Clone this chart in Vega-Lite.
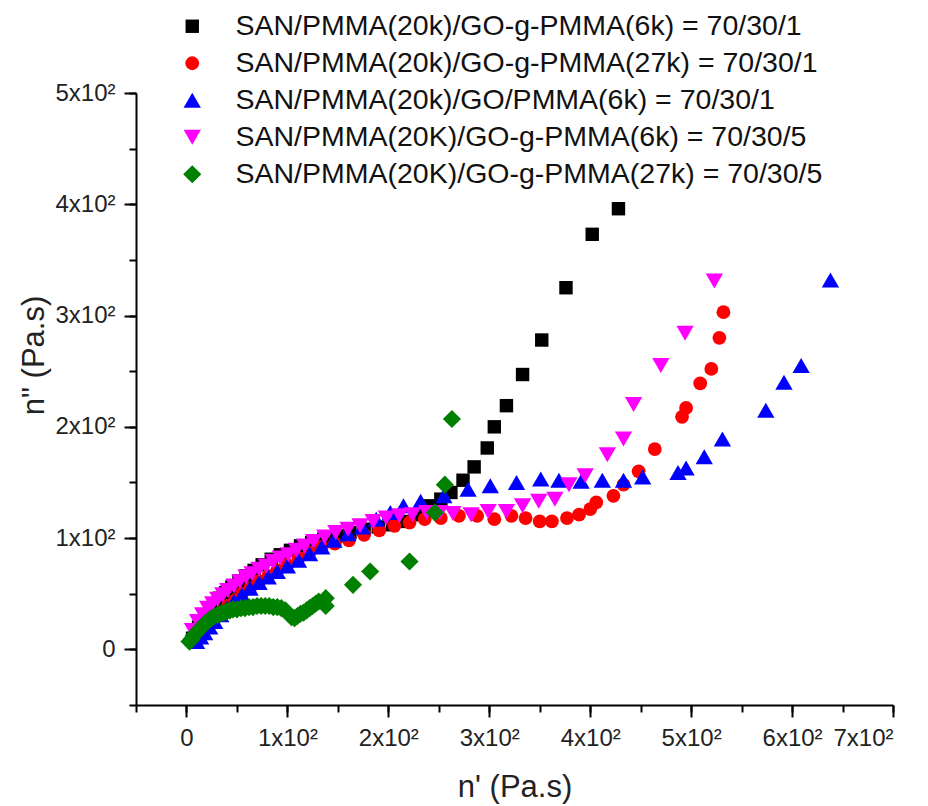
{
  "$schema": "https://vega.github.io/schema/vega-lite/v6.json",
  "width": 757,
  "height": 612,
  "autosize": {"type": "none"},
  "padding": {"left": 136, "top": 93, "right": 35, "bottom": 101},
  "background": "white",
  "config": {
    "view": {"stroke": null},
    "font": "Liberation Sans",
    "axis": {
      "grid": false,
      "domainColor": "#000",
      "domainWidth": 2,
      "tickColor": "#000",
      "tickWidth": 2,
      "labelFont": "Liberation Sans",
      "labelFontSize": 24,
      "labelColor": "#222",
      "titleFont": "Liberation Sans",
      "titleFontSize": 31,
      "titleFontWeight": "normal",
      "titleColor": "#222"
    },
    "legend": {
      "orient": "none",
      "legendX": 42,
      "legendY": -81,
      "padding": 0,
      "labelFont": "Liberation Sans",
      "labelFontSize": 28.5,
      "labelColor": "#111",
      "labelLimit": 2000,
      "labelOffset": 29,
      "rowPadding": 8,
      "title": null
    }
  },
  "datasets": {
    "pts": [
      {"s": "SAN/PMMA(20k)/GO-g-PMMA(6k) = 70/30/1", "x": 6, "y": 10},
      {"s": "SAN/PMMA(20k)/GO-g-PMMA(6k) = 70/30/1", "x": 9, "y": 15},
      {"s": "SAN/PMMA(20k)/GO-g-PMMA(6k) = 70/30/1", "x": 12, "y": 20},
      {"s": "SAN/PMMA(20k)/GO-g-PMMA(6k) = 70/30/1", "x": 15, "y": 25},
      {"s": "SAN/PMMA(20k)/GO-g-PMMA(6k) = 70/30/1", "x": 19, "y": 30},
      {"s": "SAN/PMMA(20k)/GO-g-PMMA(6k) = 70/30/1", "x": 23, "y": 35},
      {"s": "SAN/PMMA(20k)/GO-g-PMMA(6k) = 70/30/1", "x": 28, "y": 41},
      {"s": "SAN/PMMA(20k)/GO-g-PMMA(6k) = 70/30/1", "x": 33, "y": 46},
      {"s": "SAN/PMMA(20k)/GO-g-PMMA(6k) = 70/30/1", "x": 39, "y": 51},
      {"s": "SAN/PMMA(20k)/GO-g-PMMA(6k) = 70/30/1", "x": 45, "y": 56},
      {"s": "SAN/PMMA(20k)/GO-g-PMMA(6k) = 70/30/1", "x": 52, "y": 61},
      {"s": "SAN/PMMA(20k)/GO-g-PMMA(6k) = 70/30/1", "x": 59, "y": 66},
      {"s": "SAN/PMMA(20k)/GO-g-PMMA(6k) = 70/30/1", "x": 67, "y": 71},
      {"s": "SAN/PMMA(20k)/GO-g-PMMA(6k) = 70/30/1", "x": 75, "y": 76},
      {"s": "SAN/PMMA(20k)/GO-g-PMMA(6k) = 70/30/1", "x": 84, "y": 81},
      {"s": "SAN/PMMA(20k)/GO-g-PMMA(6k) = 70/30/1", "x": 93, "y": 85},
      {"s": "SAN/PMMA(20k)/GO-g-PMMA(6k) = 70/30/1", "x": 103, "y": 89},
      {"s": "SAN/PMMA(20k)/GO-g-PMMA(6k) = 70/30/1", "x": 113, "y": 93},
      {"s": "SAN/PMMA(20k)/GO-g-PMMA(6k) = 70/30/1", "x": 124, "y": 96},
      {"s": "SAN/PMMA(20k)/GO-g-PMMA(6k) = 70/30/1", "x": 136, "y": 99},
      {"s": "SAN/PMMA(20k)/GO-g-PMMA(6k) = 70/30/1", "x": 149, "y": 102},
      {"s": "SAN/PMMA(20k)/GO-g-PMMA(6k) = 70/30/1", "x": 162, "y": 105},
      {"s": "SAN/PMMA(20k)/GO-g-PMMA(6k) = 70/30/1", "x": 176, "y": 108},
      {"s": "SAN/PMMA(20k)/GO-g-PMMA(6k) = 70/30/1", "x": 190, "y": 110},
      {"s": "SAN/PMMA(20k)/GO-g-PMMA(6k) = 70/30/1", "x": 204, "y": 112},
      {"s": "SAN/PMMA(20k)/GO-g-PMMA(6k) = 70/30/1", "x": 218, "y": 115},
      {"s": "SAN/PMMA(20k)/GO-g-PMMA(6k) = 70/30/1", "x": 231, "y": 121},
      {"s": "SAN/PMMA(20k)/GO-g-PMMA(6k) = 70/30/1", "x": 241, "y": 129},
      {"s": "SAN/PMMA(20k)/GO-g-PMMA(6k) = 70/30/1", "x": 252, "y": 135},
      {"s": "SAN/PMMA(20k)/GO-g-PMMA(6k) = 70/30/1", "x": 262, "y": 141},
      {"s": "SAN/PMMA(20k)/GO-g-PMMA(6k) = 70/30/1", "x": 274, "y": 152},
      {"s": "SAN/PMMA(20k)/GO-g-PMMA(6k) = 70/30/1", "x": 285, "y": 164},
      {"s": "SAN/PMMA(20k)/GO-g-PMMA(6k) = 70/30/1", "x": 298, "y": 181},
      {"s": "SAN/PMMA(20k)/GO-g-PMMA(6k) = 70/30/1", "x": 305, "y": 200},
      {"s": "SAN/PMMA(20k)/GO-g-PMMA(6k) = 70/30/1", "x": 317, "y": 219},
      {"s": "SAN/PMMA(20k)/GO-g-PMMA(6k) = 70/30/1", "x": 333, "y": 247},
      {"s": "SAN/PMMA(20k)/GO-g-PMMA(6k) = 70/30/1", "x": 352, "y": 278},
      {"s": "SAN/PMMA(20k)/GO-g-PMMA(6k) = 70/30/1", "x": 376, "y": 325},
      {"s": "SAN/PMMA(20k)/GO-g-PMMA(6k) = 70/30/1", "x": 402, "y": 373},
      {"s": "SAN/PMMA(20k)/GO-g-PMMA(6k) = 70/30/1", "x": 428, "y": 396},

      {"s": "SAN/PMMA(20k)/GO-g-PMMA(27k) = 70/30/1", "x": 8, "y": 7},
      {"s": "SAN/PMMA(20k)/GO-g-PMMA(27k) = 70/30/1", "x": 11, "y": 11},
      {"s": "SAN/PMMA(20k)/GO-g-PMMA(27k) = 70/30/1", "x": 15, "y": 15},
      {"s": "SAN/PMMA(20k)/GO-g-PMMA(27k) = 70/30/1", "x": 19, "y": 19},
      {"s": "SAN/PMMA(20k)/GO-g-PMMA(27k) = 70/30/1", "x": 24, "y": 24},
      {"s": "SAN/PMMA(20k)/GO-g-PMMA(27k) = 70/30/1", "x": 29, "y": 29},
      {"s": "SAN/PMMA(20k)/GO-g-PMMA(27k) = 70/30/1", "x": 35, "y": 34},
      {"s": "SAN/PMMA(20k)/GO-g-PMMA(27k) = 70/30/1", "x": 41, "y": 39},
      {"s": "SAN/PMMA(20k)/GO-g-PMMA(27k) = 70/30/1", "x": 48, "y": 44},
      {"s": "SAN/PMMA(20k)/GO-g-PMMA(27k) = 70/30/1", "x": 55, "y": 50},
      {"s": "SAN/PMMA(20k)/GO-g-PMMA(27k) = 70/30/1", "x": 63, "y": 55},
      {"s": "SAN/PMMA(20k)/GO-g-PMMA(27k) = 70/30/1", "x": 72, "y": 61},
      {"s": "SAN/PMMA(20k)/GO-g-PMMA(27k) = 70/30/1", "x": 81, "y": 66},
      {"s": "SAN/PMMA(20k)/GO-g-PMMA(27k) = 70/30/1", "x": 90, "y": 71},
      {"s": "SAN/PMMA(20k)/GO-g-PMMA(27k) = 70/30/1", "x": 100, "y": 76},
      {"s": "SAN/PMMA(20k)/GO-g-PMMA(27k) = 70/30/1", "x": 111, "y": 82},
      {"s": "SAN/PMMA(20k)/GO-g-PMMA(27k) = 70/30/1", "x": 122, "y": 87},
      {"s": "SAN/PMMA(20k)/GO-g-PMMA(27k) = 70/30/1", "x": 134, "y": 92},
      {"s": "SAN/PMMA(20k)/GO-g-PMMA(27k) = 70/30/1", "x": 147, "y": 95},
      {"s": "SAN/PMMA(20k)/GO-g-PMMA(27k) = 70/30/1", "x": 161, "y": 98},
      {"s": "SAN/PMMA(20k)/GO-g-PMMA(27k) = 70/30/1", "x": 176, "y": 103},
      {"s": "SAN/PMMA(20k)/GO-g-PMMA(27k) = 70/30/1", "x": 191, "y": 107},
      {"s": "SAN/PMMA(20k)/GO-g-PMMA(27k) = 70/30/1", "x": 206, "y": 111},
      {"s": "SAN/PMMA(20k)/GO-g-PMMA(27k) = 70/30/1", "x": 221, "y": 114},
      {"s": "SAN/PMMA(20k)/GO-g-PMMA(27k) = 70/30/1", "x": 236, "y": 117},
      {"s": "SAN/PMMA(20k)/GO-g-PMMA(27k) = 70/30/1", "x": 252, "y": 118},
      {"s": "SAN/PMMA(20k)/GO-g-PMMA(27k) = 70/30/1", "x": 270, "y": 120},
      {"s": "SAN/PMMA(20k)/GO-g-PMMA(27k) = 70/30/1", "x": 288, "y": 120},
      {"s": "SAN/PMMA(20k)/GO-g-PMMA(27k) = 70/30/1", "x": 305, "y": 117},
      {"s": "SAN/PMMA(20k)/GO-g-PMMA(27k) = 70/30/1", "x": 322, "y": 120},
      {"s": "SAN/PMMA(20k)/GO-g-PMMA(27k) = 70/30/1", "x": 336, "y": 118},
      {"s": "SAN/PMMA(20k)/GO-g-PMMA(27k) = 70/30/1", "x": 350, "y": 115},
      {"s": "SAN/PMMA(20k)/GO-g-PMMA(27k) = 70/30/1", "x": 362, "y": 115},
      {"s": "SAN/PMMA(20k)/GO-g-PMMA(27k) = 70/30/1", "x": 377, "y": 118},
      {"s": "SAN/PMMA(20k)/GO-g-PMMA(27k) = 70/30/1", "x": 389, "y": 121},
      {"s": "SAN/PMMA(20k)/GO-g-PMMA(27k) = 70/30/1", "x": 400, "y": 126},
      {"s": "SAN/PMMA(20k)/GO-g-PMMA(27k) = 70/30/1", "x": 406, "y": 132},
      {"s": "SAN/PMMA(20k)/GO-g-PMMA(27k) = 70/30/1", "x": 423, "y": 138},
      {"s": "SAN/PMMA(20k)/GO-g-PMMA(27k) = 70/30/1", "x": 433, "y": 148},
      {"s": "SAN/PMMA(20k)/GO-g-PMMA(27k) = 70/30/1", "x": 448, "y": 160},
      {"s": "SAN/PMMA(20k)/GO-g-PMMA(27k) = 70/30/1", "x": 464, "y": 180},
      {"s": "SAN/PMMA(20k)/GO-g-PMMA(27k) = 70/30/1", "x": 491, "y": 209},
      {"s": "SAN/PMMA(20k)/GO-g-PMMA(27k) = 70/30/1", "x": 495, "y": 217},
      {"s": "SAN/PMMA(20k)/GO-g-PMMA(27k) = 70/30/1", "x": 509, "y": 239},
      {"s": "SAN/PMMA(20k)/GO-g-PMMA(27k) = 70/30/1", "x": 520, "y": 252},
      {"s": "SAN/PMMA(20k)/GO-g-PMMA(27k) = 70/30/1", "x": 528, "y": 280},
      {"s": "SAN/PMMA(20k)/GO-g-PMMA(27k) = 70/30/1", "x": 532, "y": 303},

      {"s": "SAN/PMMA(20k)/GO/PMMA(6k) = 70/30/1", "x": 10, "y": 7},
      {"s": "SAN/PMMA(20k)/GO/PMMA(6k) = 70/30/1", "x": 14, "y": 11},
      {"s": "SAN/PMMA(20k)/GO/PMMA(6k) = 70/30/1", "x": 18, "y": 15},
      {"s": "SAN/PMMA(20k)/GO/PMMA(6k) = 70/30/1", "x": 23, "y": 20},
      {"s": "SAN/PMMA(20k)/GO/PMMA(6k) = 70/30/1", "x": 28, "y": 25},
      {"s": "SAN/PMMA(20k)/GO/PMMA(6k) = 70/30/1", "x": 34, "y": 31},
      {"s": "SAN/PMMA(20k)/GO/PMMA(6k) = 70/30/1", "x": 40, "y": 37},
      {"s": "SAN/PMMA(20k)/GO/PMMA(6k) = 70/30/1", "x": 47, "y": 43},
      {"s": "SAN/PMMA(20k)/GO/PMMA(6k) = 70/30/1", "x": 55, "y": 49},
      {"s": "SAN/PMMA(20k)/GO/PMMA(6k) = 70/30/1", "x": 63, "y": 55},
      {"s": "SAN/PMMA(20k)/GO/PMMA(6k) = 70/30/1", "x": 72, "y": 60},
      {"s": "SAN/PMMA(20k)/GO/PMMA(6k) = 70/30/1", "x": 81, "y": 65},
      {"s": "SAN/PMMA(20k)/GO/PMMA(6k) = 70/30/1", "x": 90, "y": 70},
      {"s": "SAN/PMMA(20k)/GO/PMMA(6k) = 70/30/1", "x": 100, "y": 75},
      {"s": "SAN/PMMA(20k)/GO/PMMA(6k) = 70/30/1", "x": 111, "y": 80},
      {"s": "SAN/PMMA(20k)/GO/PMMA(6k) = 70/30/1", "x": 122, "y": 86},
      {"s": "SAN/PMMA(20k)/GO/PMMA(6k) = 70/30/1", "x": 134, "y": 92},
      {"s": "SAN/PMMA(20k)/GO/PMMA(6k) = 70/30/1", "x": 146, "y": 98},
      {"s": "SAN/PMMA(20k)/GO/PMMA(6k) = 70/30/1", "x": 160, "y": 104},
      {"s": "SAN/PMMA(20k)/GO/PMMA(6k) = 70/30/1", "x": 174, "y": 110},
      {"s": "SAN/PMMA(20k)/GO/PMMA(6k) = 70/30/1", "x": 188, "y": 117},
      {"s": "SAN/PMMA(20k)/GO/PMMA(6k) = 70/30/1", "x": 202, "y": 123},
      {"s": "SAN/PMMA(20k)/GO/PMMA(6k) = 70/30/1", "x": 215, "y": 129},
      {"s": "SAN/PMMA(20k)/GO/PMMA(6k) = 70/30/1", "x": 232, "y": 133},
      {"s": "SAN/PMMA(20k)/GO/PMMA(6k) = 70/30/1", "x": 255, "y": 138},
      {"s": "SAN/PMMA(20k)/GO/PMMA(6k) = 70/30/1", "x": 279, "y": 144},
      {"s": "SAN/PMMA(20k)/GO/PMMA(6k) = 70/30/1", "x": 301, "y": 147},
      {"s": "SAN/PMMA(20k)/GO/PMMA(6k) = 70/30/1", "x": 327, "y": 150},
      {"s": "SAN/PMMA(20k)/GO/PMMA(6k) = 70/30/1", "x": 351, "y": 153},
      {"s": "SAN/PMMA(20k)/GO/PMMA(6k) = 70/30/1", "x": 369, "y": 152},
      {"s": "SAN/PMMA(20k)/GO/PMMA(6k) = 70/30/1", "x": 391, "y": 151},
      {"s": "SAN/PMMA(20k)/GO/PMMA(6k) = 70/30/1", "x": 412, "y": 152},
      {"s": "SAN/PMMA(20k)/GO/PMMA(6k) = 70/30/1", "x": 433, "y": 152},
      {"s": "SAN/PMMA(20k)/GO/PMMA(6k) = 70/30/1", "x": 452, "y": 155},
      {"s": "SAN/PMMA(20k)/GO/PMMA(6k) = 70/30/1", "x": 487, "y": 159},
      {"s": "SAN/PMMA(20k)/GO/PMMA(6k) = 70/30/1", "x": 495, "y": 163},
      {"s": "SAN/PMMA(20k)/GO/PMMA(6k) = 70/30/1", "x": 513, "y": 173},
      {"s": "SAN/PMMA(20k)/GO/PMMA(6k) = 70/30/1", "x": 531, "y": 189},
      {"s": "SAN/PMMA(20k)/GO/PMMA(6k) = 70/30/1", "x": 574, "y": 215},
      {"s": "SAN/PMMA(20k)/GO/PMMA(6k) = 70/30/1", "x": 592, "y": 240},
      {"s": "SAN/PMMA(20k)/GO/PMMA(6k) = 70/30/1", "x": 609, "y": 255},
      {"s": "SAN/PMMA(20k)/GO/PMMA(6k) = 70/30/1", "x": 638, "y": 332},

      {"s": "SAN/PMMA(20K)/GO-g-PMMA(6k) = 70/30/5", "x": 6, "y": 17},
      {"s": "SAN/PMMA(20K)/GO-g-PMMA(6k) = 70/30/5", "x": 11, "y": 25},
      {"s": "SAN/PMMA(20K)/GO-g-PMMA(6k) = 70/30/5", "x": 16, "y": 31},
      {"s": "SAN/PMMA(20K)/GO-g-PMMA(6k) = 70/30/5", "x": 21, "y": 37},
      {"s": "SAN/PMMA(20K)/GO-g-PMMA(6k) = 70/30/5", "x": 26, "y": 41},
      {"s": "SAN/PMMA(20K)/GO-g-PMMA(6k) = 70/30/5", "x": 31, "y": 45},
      {"s": "SAN/PMMA(20K)/GO-g-PMMA(6k) = 70/30/5", "x": 36, "y": 49},
      {"s": "SAN/PMMA(20K)/GO-g-PMMA(6k) = 70/30/5", "x": 41, "y": 53},
      {"s": "SAN/PMMA(20K)/GO-g-PMMA(6k) = 70/30/5", "x": 47, "y": 57},
      {"s": "SAN/PMMA(20K)/GO-g-PMMA(6k) = 70/30/5", "x": 53, "y": 61},
      {"s": "SAN/PMMA(20K)/GO-g-PMMA(6k) = 70/30/5", "x": 59, "y": 65},
      {"s": "SAN/PMMA(20K)/GO-g-PMMA(6k) = 70/30/5", "x": 65, "y": 68},
      {"s": "SAN/PMMA(20K)/GO-g-PMMA(6k) = 70/30/5", "x": 72, "y": 72},
      {"s": "SAN/PMMA(20K)/GO-g-PMMA(6k) = 70/30/5", "x": 79, "y": 75},
      {"s": "SAN/PMMA(20K)/GO-g-PMMA(6k) = 70/30/5", "x": 86, "y": 79},
      {"s": "SAN/PMMA(20K)/GO-g-PMMA(6k) = 70/30/5", "x": 93, "y": 82},
      {"s": "SAN/PMMA(20K)/GO-g-PMMA(6k) = 70/30/5", "x": 101, "y": 85},
      {"s": "SAN/PMMA(20K)/GO-g-PMMA(6k) = 70/30/5", "x": 109, "y": 89},
      {"s": "SAN/PMMA(20K)/GO-g-PMMA(6k) = 70/30/5", "x": 117, "y": 93},
      {"s": "SAN/PMMA(20K)/GO-g-PMMA(6k) = 70/30/5", "x": 126, "y": 97},
      {"s": "SAN/PMMA(20K)/GO-g-PMMA(6k) = 70/30/5", "x": 137, "y": 101},
      {"s": "SAN/PMMA(20K)/GO-g-PMMA(6k) = 70/30/5", "x": 148, "y": 105},
      {"s": "SAN/PMMA(20K)/GO-g-PMMA(6k) = 70/30/5", "x": 160, "y": 108},
      {"s": "SAN/PMMA(20K)/GO-g-PMMA(6k) = 70/30/5", "x": 172, "y": 111},
      {"s": "SAN/PMMA(20K)/GO-g-PMMA(6k) = 70/30/5", "x": 185, "y": 115},
      {"s": "SAN/PMMA(20K)/GO-g-PMMA(6k) = 70/30/5", "x": 198, "y": 118},
      {"s": "SAN/PMMA(20K)/GO-g-PMMA(6k) = 70/30/5", "x": 211, "y": 120},
      {"s": "SAN/PMMA(20K)/GO-g-PMMA(6k) = 70/30/5", "x": 224, "y": 121},
      {"s": "SAN/PMMA(20K)/GO-g-PMMA(6k) = 70/30/5", "x": 238, "y": 123},
      {"s": "SAN/PMMA(20K)/GO-g-PMMA(6k) = 70/30/5", "x": 251, "y": 123},
      {"s": "SAN/PMMA(20K)/GO-g-PMMA(6k) = 70/30/5", "x": 264, "y": 122},
      {"s": "SAN/PMMA(20K)/GO-g-PMMA(6k) = 70/30/5", "x": 282, "y": 121},
      {"s": "SAN/PMMA(20K)/GO-g-PMMA(6k) = 70/30/5", "x": 299, "y": 124},
      {"s": "SAN/PMMA(20K)/GO-g-PMMA(6k) = 70/30/5", "x": 317, "y": 124},
      {"s": "SAN/PMMA(20K)/GO-g-PMMA(6k) = 70/30/5", "x": 333, "y": 129},
      {"s": "SAN/PMMA(20K)/GO-g-PMMA(6k) = 70/30/5", "x": 349, "y": 133},
      {"s": "SAN/PMMA(20K)/GO-g-PMMA(6k) = 70/30/5", "x": 365, "y": 135},
      {"s": "SAN/PMMA(20K)/GO-g-PMMA(6k) = 70/30/5", "x": 379, "y": 148},
      {"s": "SAN/PMMA(20K)/GO-g-PMMA(6k) = 70/30/5", "x": 395, "y": 156},
      {"s": "SAN/PMMA(20K)/GO-g-PMMA(6k) = 70/30/5", "x": 417, "y": 175},
      {"s": "SAN/PMMA(20K)/GO-g-PMMA(6k) = 70/30/5", "x": 433, "y": 189},
      {"s": "SAN/PMMA(20K)/GO-g-PMMA(6k) = 70/30/5", "x": 443, "y": 220},
      {"s": "SAN/PMMA(20K)/GO-g-PMMA(6k) = 70/30/5", "x": 470, "y": 255},
      {"s": "SAN/PMMA(20K)/GO-g-PMMA(6k) = 70/30/5", "x": 494, "y": 284},
      {"s": "SAN/PMMA(20K)/GO-g-PMMA(6k) = 70/30/5", "x": 523, "y": 331},

      {"s": "SAN/PMMA(20K)/GO-g-PMMA(27k) = 70/30/5", "x": 3, "y": 7},
      {"s": "SAN/PMMA(20K)/GO-g-PMMA(27k) = 70/30/5", "x": 5, "y": 9},
      {"s": "SAN/PMMA(20K)/GO-g-PMMA(27k) = 70/30/5", "x": 7, "y": 12},
      {"s": "SAN/PMMA(20K)/GO-g-PMMA(27k) = 70/30/5", "x": 9, "y": 14},
      {"s": "SAN/PMMA(20K)/GO-g-PMMA(27k) = 70/30/5", "x": 11, "y": 16},
      {"s": "SAN/PMMA(20K)/GO-g-PMMA(27k) = 70/30/5", "x": 13, "y": 18},
      {"s": "SAN/PMMA(20K)/GO-g-PMMA(27k) = 70/30/5", "x": 15, "y": 20},
      {"s": "SAN/PMMA(20K)/GO-g-PMMA(27k) = 70/30/5", "x": 17, "y": 22},
      {"s": "SAN/PMMA(20K)/GO-g-PMMA(27k) = 70/30/5", "x": 19, "y": 24},
      {"s": "SAN/PMMA(20K)/GO-g-PMMA(27k) = 70/30/5", "x": 22, "y": 26},
      {"s": "SAN/PMMA(20K)/GO-g-PMMA(27k) = 70/30/5", "x": 25, "y": 28},
      {"s": "SAN/PMMA(20K)/GO-g-PMMA(27k) = 70/30/5", "x": 28, "y": 30},
      {"s": "SAN/PMMA(20K)/GO-g-PMMA(27k) = 70/30/5", "x": 31, "y": 31},
      {"s": "SAN/PMMA(20K)/GO-g-PMMA(27k) = 70/30/5", "x": 34, "y": 32},
      {"s": "SAN/PMMA(20K)/GO-g-PMMA(27k) = 70/30/5", "x": 37, "y": 33},
      {"s": "SAN/PMMA(20K)/GO-g-PMMA(27k) = 70/30/5", "x": 40, "y": 34},
      {"s": "SAN/PMMA(20K)/GO-g-PMMA(27k) = 70/30/5", "x": 43, "y": 35},
      {"s": "SAN/PMMA(20K)/GO-g-PMMA(27k) = 70/30/5", "x": 46, "y": 36},
      {"s": "SAN/PMMA(20K)/GO-g-PMMA(27k) = 70/30/5", "x": 50, "y": 36},
      {"s": "SAN/PMMA(20K)/GO-g-PMMA(27k) = 70/30/5", "x": 54, "y": 37},
      {"s": "SAN/PMMA(20K)/GO-g-PMMA(27k) = 70/30/5", "x": 58, "y": 37},
      {"s": "SAN/PMMA(20K)/GO-g-PMMA(27k) = 70/30/5", "x": 62, "y": 38},
      {"s": "SAN/PMMA(20K)/GO-g-PMMA(27k) = 70/30/5", "x": 66, "y": 38},
      {"s": "SAN/PMMA(20K)/GO-g-PMMA(27k) = 70/30/5", "x": 70, "y": 39},
      {"s": "SAN/PMMA(20K)/GO-g-PMMA(27k) = 70/30/5", "x": 74, "y": 39},
      {"s": "SAN/PMMA(20K)/GO-g-PMMA(27k) = 70/30/5", "x": 78, "y": 39},
      {"s": "SAN/PMMA(20K)/GO-g-PMMA(27k) = 70/30/5", "x": 82, "y": 39},
      {"s": "SAN/PMMA(20K)/GO-g-PMMA(27k) = 70/30/5", "x": 86, "y": 38},
      {"s": "SAN/PMMA(20K)/GO-g-PMMA(27k) = 70/30/5", "x": 90, "y": 38},
      {"s": "SAN/PMMA(20K)/GO-g-PMMA(27k) = 70/30/5", "x": 94, "y": 37},
      {"s": "SAN/PMMA(20K)/GO-g-PMMA(27k) = 70/30/5", "x": 98, "y": 35},
      {"s": "SAN/PMMA(20K)/GO-g-PMMA(27k) = 70/30/5", "x": 101, "y": 32},
      {"s": "SAN/PMMA(20K)/GO-g-PMMA(27k) = 70/30/5", "x": 104, "y": 29},
      {"s": "SAN/PMMA(20K)/GO-g-PMMA(27k) = 70/30/5", "x": 107, "y": 28},
      {"s": "SAN/PMMA(20K)/GO-g-PMMA(27k) = 70/30/5", "x": 110, "y": 30},
      {"s": "SAN/PMMA(20K)/GO-g-PMMA(27k) = 70/30/5", "x": 113, "y": 32},
      {"s": "SAN/PMMA(20K)/GO-g-PMMA(27k) = 70/30/5", "x": 116, "y": 33},
      {"s": "SAN/PMMA(20K)/GO-g-PMMA(27k) = 70/30/5", "x": 119, "y": 35},
      {"s": "SAN/PMMA(20K)/GO-g-PMMA(27k) = 70/30/5", "x": 122, "y": 37},
      {"s": "SAN/PMMA(20K)/GO-g-PMMA(27k) = 70/30/5", "x": 125, "y": 39},
      {"s": "SAN/PMMA(20K)/GO-g-PMMA(27k) = 70/30/5", "x": 128, "y": 41},
      {"s": "SAN/PMMA(20K)/GO-g-PMMA(27k) = 70/30/5", "x": 131, "y": 43},
      {"s": "SAN/PMMA(20K)/GO-g-PMMA(27k) = 70/30/5", "x": 138, "y": 39},
      {"s": "SAN/PMMA(20K)/GO-g-PMMA(27k) = 70/30/5", "x": 138, "y": 46},
      {"s": "SAN/PMMA(20K)/GO-g-PMMA(27k) = 70/30/5", "x": 165, "y": 58},
      {"s": "SAN/PMMA(20K)/GO-g-PMMA(27k) = 70/30/5", "x": 182, "y": 70},
      {"s": "SAN/PMMA(20K)/GO-g-PMMA(27k) = 70/30/5", "x": 221, "y": 79},
      {"s": "SAN/PMMA(20K)/GO-g-PMMA(27k) = 70/30/5", "x": 246, "y": 123},
      {"s": "SAN/PMMA(20K)/GO-g-PMMA(27k) = 70/30/5", "x": 256, "y": 148},
      {"s": "SAN/PMMA(20K)/GO-g-PMMA(27k) = 70/30/5", "x": 263, "y": 207}
    ]
  },
  "data": {"name": "pts"},
  "layer": [
    {
      "mark": {"type": "point", "opacity": 0},
      "encoding": {
        "x": {
          "field": "x", "type": "quantitative",
          "scale": {"domain": [-50, 700], "nice": false, "zero": false},
          "axis": {"orient": "bottom", "values": [-50, 0, 50, 100, 150, 200, 250, 300, 350, 400, 450, 500, 550, 600, 650, 700], "tickSize": 7, "labels": false, "domain": false, "title": null}
        },
        "y": {
          "field": "y", "type": "quantitative",
          "scale": {"domain": [-50, 500], "nice": false, "zero": false},
          "axis": {"orient": "left", "values": [-50, 0, 50, 100, 150, 200, 250, 300, 350, 400, 450, 500], "tickSize": 7, "labels": false, "domain": false, "title": null}
        }
      }
    },
    {
      "mark": {"type": "point", "filled": true, "opacity": 1, "strokeWidth": 0},
      "encoding": {
        "x": {
          "field": "x", "type": "quantitative",
          "axis": {
            "orient": "bottom",
            "values": [0, 100, 200, 300, 400, 500, 600, 700],
            "tickSize": 12,
            "labelPadding": 9,
            "labelExpr": "datum.value == 0 ? '0' : (datum.value / 100) + 'x10²'",
            "title": "n' (Pa.s)",
            "titleY": 91,
            "titleBaseline": "alphabetic"
          }
        },
        "y": {
          "field": "y", "type": "quantitative",
          "axis": {
            "orient": "left",
            "values": [0, 100, 200, 300, 400, 500],
            "tickSize": 12,
            "labelPadding": 9,
            "labelExpr": "datum.value == 0 ? '0' : (datum.value / 100) + 'x10²'",
            "title": "n\" (Pa.s)",
            "titleX": -86,
            "titleY": 262,
            "titleAngle": -90,
            "titleAlign": "center",
            "titleBaseline": "bottom"
          }
        },
        "color": {
          "field": "s", "type": "nominal",
          "scale": {
            "domain": ["SAN/PMMA(20k)/GO-g-PMMA(6k) = 70/30/1", "SAN/PMMA(20k)/GO-g-PMMA(27k) = 70/30/1", "SAN/PMMA(20k)/GO/PMMA(6k) = 70/30/1", "SAN/PMMA(20K)/GO-g-PMMA(6k) = 70/30/5", "SAN/PMMA(20K)/GO-g-PMMA(27k) = 70/30/5"],
            "range": ["#000000", "#ff0000", "#0000ff", "#ff00ff", "#008000"]
          },
          "legend": {"title": null}
        },
        "shape": {
          "field": "s", "type": "nominal",
          "scale": {
            "domain": ["SAN/PMMA(20k)/GO-g-PMMA(6k) = 70/30/1", "SAN/PMMA(20k)/GO-g-PMMA(27k) = 70/30/1", "SAN/PMMA(20k)/GO/PMMA(6k) = 70/30/1", "SAN/PMMA(20K)/GO-g-PMMA(6k) = 70/30/5", "SAN/PMMA(20K)/GO-g-PMMA(27k) = 70/30/5"],
            "range": ["square", "circle", "triangle-up", "triangle-down", "diamond"]
          },
          "legend": {"title": null}
        },
        "size": {
          "field": "s", "type": "nominal",
          "scale": {
            "type": "ordinal",
            "domain": ["SAN/PMMA(20k)/GO-g-PMMA(6k) = 70/30/1", "SAN/PMMA(20k)/GO-g-PMMA(27k) = 70/30/1", "SAN/PMMA(20k)/GO/PMMA(6k) = 70/30/1", "SAN/PMMA(20K)/GO-g-PMMA(6k) = 70/30/5", "SAN/PMMA(20K)/GO-g-PMMA(27k) = 70/30/5"],
            "range": [180, 190, 300, 300, 330]
          },
          "legend": {"title": null}
        }
      }
    }
  ],
  "resolve": {"axis": {"x": "independent", "y": "independent"}}
}
